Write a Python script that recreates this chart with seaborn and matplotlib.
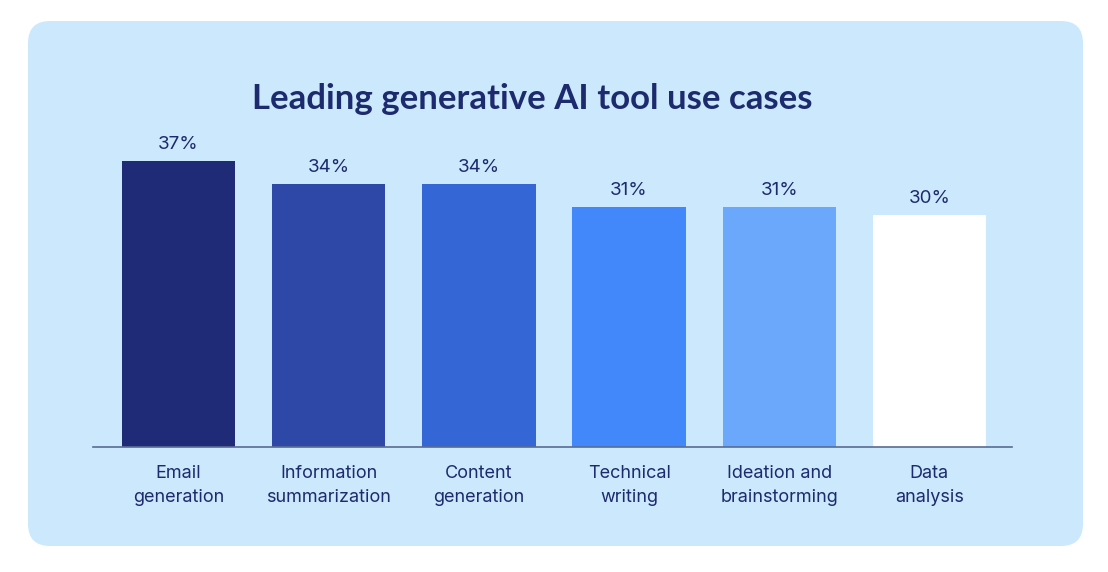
import matplotlib
matplotlib.use("Agg")
import matplotlib.pyplot as plt
import seaborn as sns
import pandas as pd
from matplotlib.patches import FancyBboxPatch

categories = ["Email\ngeneration", "Information\nsummarization", "Content\ngeneration",
              "Technical\nwriting", "Ideation and\nbrainstorming", "Data\nanalysis"]
shares = [37, 34, 34, 31, 31, 30]
bar_colors = ["#202b78", "#2d48a6", "#3566d6", "#4288fb", "#6ba8fb", "#ffffff"]

NAVY = "#1d2a6e"
PANEL = "#cbe8fd"
BODY_FONT = ["Inter", "DejaVu Sans"]

sns.set_theme(style="white")
plt.rcParams["font.family"] = ["Lato", "DejaVu Sans"]

df = pd.DataFrame({"category": categories, "share": shares})

fig = plt.figure(figsize=(11.08, 5.72), dpi=100)
fig.patch.set_facecolor("white")

# rounded light-blue card behind the chart
card = FancyBboxPatch((28 / 1108, 26 / 572), 1055 / 1108, 525 / 572,
                      boxstyle="round,pad=0,rounding_size=0.02",
                      transform=fig.transFigure, facecolor=PANEL,
                      edgecolor="none", zorder=-1, mutation_aspect=1108 / 572)
fig.patches.append(card)

ax = fig.add_axes([93 / 1108, 125 / 572, 919 / 1108, 347 / 572])
ax.set_facecolor("none")

sns.barplot(data=df, x="category", y="share", hue="category", palette=bar_colors,
            legend=False, width=0.755, saturation=1, linewidth=0, ax=ax)

for i, v in enumerate(shares):
    ax.annotate(f"{v}%", (i, v), xytext=(0, 6), textcoords="offset points",
                ha="center", va="bottom", fontsize=13.5, color=NAVY, family=BODY_FONT)

ax.set_xlim(-0.57, 5.55)
ax.set_ylim(0, 44.9)
ax.set_xlabel("")
ax.set_ylabel("")
ax.set_yticks([])
ax.tick_params(axis="x", length=0, pad=13, labelsize=13, labelcolor=NAVY)
for lbl in ax.get_xticklabels():
    lbl.set_linespacing(1.5)
    lbl.set_family(BODY_FONT)
for side in ["top", "right", "left"]:
    ax.spines[side].set_visible(False)
ax.spines["bottom"].set_color("#5b6b94")
ax.spines["bottom"].set_linewidth(1.2)

fig.text(532 / 1108, 1 - 99 / 572, "Leading generative AI tool use cases",
         ha="center", va="center", fontsize=25, fontweight="bold", color=NAVY)

fig.savefig("out.png", dpi=100)
